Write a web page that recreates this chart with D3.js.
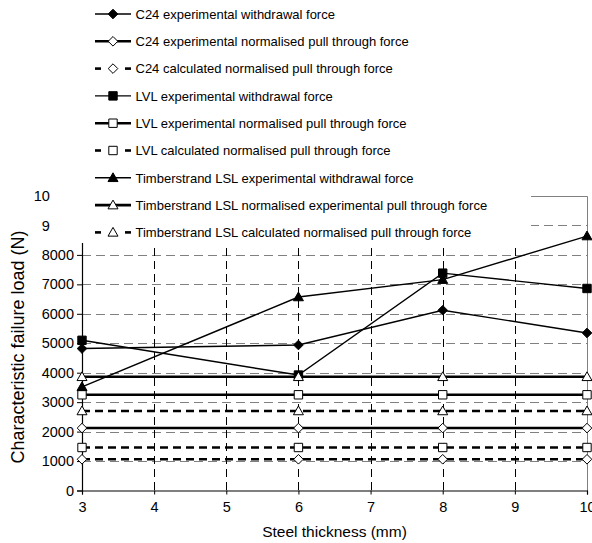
<!DOCTYPE html>
<html>
<head>
<meta charset="utf-8">
<script src="https://cdn.jsdelivr.net/npm/d3@7"></script>
<style>
  html, body { margin: 0; padding: 0; background: #fff; }
  svg { display: block; font-family: Arial, "Liberation Sans", sans-serif; }
</style>
</head>
<body>
<svg id="chart" width="592" height="543"></svg>
<script>
// Steel thickness (mm) at which each series was measured
const thickness = [3, 6, 8, 10];

// Characteristic failure loads (N)
const c24Withdrawal   = [4820, 4940, 6120, 5350];
const c24ExpPull      = [2120, 2120, 2120, 2120];
const c24CalcPull     = [1060, 1060, 1060, 1060];
const lvlWithdrawal   = [5100, 3920, 7380, 6860];
const lvlExpPull      = [3250, 3250, 3250, 3250];
const lvlCalcPull     = [1460, 1460, 1460, 1460];
const lslWithdrawal   = [3520, 6570, 7160, 8640];
const lslExpPull      = [3860, 3860, 3860, 3860];
const lslCalcPull     = [2700, 2700, 2700, 2700];

const seriesNames = [
  "C24 experimental withdrawal force",
  "C24 experimental normalised pull through force",
  "C24 calculated normalised pull through force",
  "LVL experimental withdrawal force",
  "LVL experimental normalised pull through force",
  "LVL calculated normalised pull through force",
  "Timberstrand LSL experimental withdrawal force",
  "Timberstrand LSL normalised experimental pull through force",
  "Timberstrand LSL calculated normalised pull through force"
];
const seriesValues = [
  c24Withdrawal, c24ExpPull, c24CalcPull,
  lvlWithdrawal, lvlExpPull, lvlCalcPull,
  lslWithdrawal, lslExpPull, lslCalcPull
];
const seriesMarker = ["diamond", "diamond", "diamond", "square", "square", "square", "triangle", "triangle", "triangle"];
const seriesStyle  = ["thin", "thick", "dashed", "thin", "thick", "dashed", "thin", "thick", "dashed"];

const xTicks = [3, 4, 5, 6, 7, 8, 9, 10];
const yTicks = [0, 1000, 2000, 3000, 4000, 5000, 6000, 7000, 8000, 9000, 10000];

const svg = d3.select("#chart");
const plotLeft = 82, plotRight = 587, plotTop = 196, plotBottom = 490.5;

const x = d3.scaleLinear().domain([3, 10]).range([plotLeft, plotRight]);
const y = d3.scaleLinear().domain([0, 10000]).range([plotBottom, plotTop]);

// Marker shapes
function markerPath(kind) {
  if (kind === "diamond") { const r = 4.8; return `M0,${-r}L${r},0L0,${r}L${-r},0Z`; }
  if (kind === "square")  { const r = 4.2; return `M${-r},${-r}H${r}V${r}H${-r}Z`; }
  const r = 5; return `M0,${-r}L${r},${r * 0.75}L${-r},${r * 0.75}Z`;
}
const filled = s => s === "thin";
const strokeW = s => s === "thin" ? 1.4 : 2.6;
const dash = s => s === "dashed" ? "8,5" : null;

// Grid
const grid = svg.append("g");
grid.selectAll("line.h").data(yTicks.filter(v => v > 0 && v < 10000)).join("line")
  .attr("x1", plotLeft).attr("x2", plotRight)
  .attr("y1", d => Math.round(y(d)) + 0.5).attr("y2", d => Math.round(y(d)) + 0.5)
  .attr("stroke", "#808080").attr("stroke-width", 1).attr("stroke-dasharray", "9,5");
grid.selectAll("line.v").data(xTicks.filter(v => v > 3 && v < 10)).join("line")
  .attr("x1", d => Math.round(x(d)) + 0.5).attr("x2", d => Math.round(x(d)) + 0.5)
  .attr("y1", plotTop).attr("y2", plotBottom)
  .attr("stroke", "#000").attr("stroke-width", 1).attr("stroke-dasharray", "8,5");
// Plot-area border (top and right)
grid.append("path")
  .attr("d", `M${plotLeft},${Math.round(plotTop) + 0.5}H${plotRight + 0.5}V${plotBottom}`)
  .attr("fill", "none").attr("stroke", "#808080").attr("stroke-width", 1);

// Axes
const xAxis = svg.append("g").attr("transform", `translate(0,${plotBottom})`)
  .call(d3.axisBottom(x).tickValues(xTicks).tickFormat(d3.format("d")).tickSize(4).tickPadding(7));
const yAxis = svg.append("g").attr("transform", `translate(${plotLeft},0)`)
  .call(d3.axisLeft(y).tickValues(yTicks).tickFormat(d3.format("d")).tickSize(5).tickPadding(3));
[xAxis, yAxis].forEach(a => {
  a.select(".domain").attr("stroke", "#000").attr("stroke-width", 1.2);
  a.selectAll(".tick line").attr("stroke", "#000");
  a.selectAll("text").attr("font-size", 14.5).attr("fill", "#000")
    .attr("font-family", 'Arial, "Liberation Sans", sans-serif');
});

// Series
const line = d3.line().x((d, i) => x(thickness[i])).y(d => y(d));
seriesValues.forEach((vals, k) => {
  const st = seriesStyle[k];
  const g = svg.append("g");
  g.append("path").attr("d", line(vals)).attr("fill", "none")
    .attr("stroke", "#000").attr("stroke-width", strokeW(st))
    .attr("stroke-dasharray", dash(st));
  g.selectAll("path.m").data(vals).join("path")
    .attr("transform", (d, i) => `translate(${x(thickness[i])},${y(d)})`)
    .attr("d", markerPath(seriesMarker[k]))
    .attr("fill", filled(st) ? "#000" : "#fff")
    .attr("stroke", "#000").attr("stroke-width", 1);
});

// Axis titles
svg.append("text").attr("x", (plotLeft + plotRight) / 2).attr("y", 537)
  .attr("text-anchor", "middle").attr("font-size", 15.5).text("Steel thickness (mm)");
svg.append("text").attr("transform", `translate(24,347) rotate(-90)`)
  .attr("text-anchor", "middle").attr("font-size", 18).text("Characteristic failure load (N)");

// Legend box (sits over the upper part of the plot)
const legend = svg.append("g");
legend.append("rect").attr("x", 50).attr("y", 0).attr("width", 481).attr("height", 243).attr("fill", "#fff");
const rowY = i => 14 + i * 27.3;
seriesNames.forEach((name, i) => {
  const st = seriesStyle[i];
  const g = legend.append("g").attr("transform", `translate(0,${rowY(i)})`);
  if (st === "dashed") {
    g.append("line").attr("x1", 95).attr("x2", 101).attr("stroke", "#000").attr("stroke-width", strokeW(st));
    g.append("line").attr("x1", 125).attr("x2", 131).attr("stroke", "#000").attr("stroke-width", strokeW(st));
  } else {
    g.append("line").attr("x1", 95).attr("x2", 131).attr("stroke", "#000").attr("stroke-width", strokeW(st));
  }
  g.append("path").attr("transform", "translate(113,0)").attr("d", markerPath(seriesMarker[i]))
    .attr("fill", filled(st) ? "#000" : "#fff").attr("stroke", "#000").attr("stroke-width", 1);
  g.append("text").attr("x", 135.5).attr("y", 4.8).attr("font-size", 13).text(name);
});
</script>
</body>
</html>
